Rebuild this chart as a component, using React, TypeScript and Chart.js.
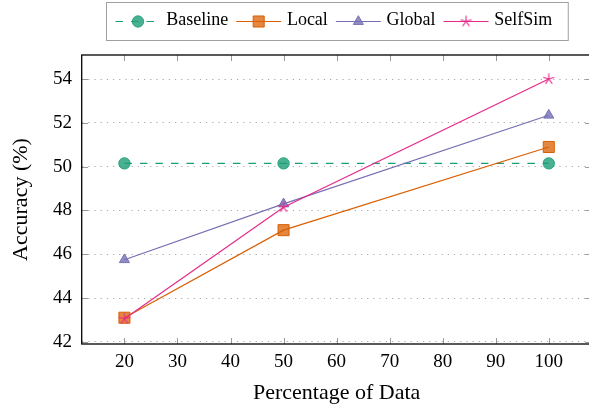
import React, { useEffect, useRef } from "react";
import { Chart, registerables } from "chart.js";

Chart.register(...registerables);

// ---- data ----
const xValues = [20, 50, 100];
const seriesNames = ["Baseline", "Local", "Global", "SelfSim"];
const baselineAcc = [50.15, 50.15, 50.15];
const localAcc = [43.1, 47.1, 50.9];
const globalAcc = [45.75, 48.3, 52.35];
const selfSimAcc = [43.05, 48.15, 54.0];
const xTicks = [20, 30, 40, 50, 60, 70, 80, 90, 100];
const yTicks = [42, 44, 46, 48, 50, 52, 54];
const xLabel = "Percentage of Data";
const yLabel = "Accuracy (%)";

const FONT = "'Liberation Serif', 'Times New Roman', serif";

function makeStar(color: string, r: number): HTMLCanvasElement {
  const c = document.createElement("canvas");
  const s = Math.ceil(r * 2 + 4);
  c.width = s;
  c.height = s;
  const ctx = c.getContext("2d")!;
  ctx.strokeStyle = color;
  ctx.lineWidth = 1.1;
  ctx.beginPath();
  for (let i = 0; i < 5; i++) {
    const a = -Math.PI / 2 + (i * 2 * Math.PI) / 5;
    ctx.moveTo(s / 2, s / 2);
    ctx.lineTo(s / 2 + r * Math.cos(a), s / 2 + r * Math.sin(a));
  }
  ctx.stroke();
  return c;
}

function drawMarker(ctx: CanvasRenderingContext2D, d: any, x: number, y: number) {
  const r = d.pointRadius;
  const st = d.pointStyle;
  ctx.save();
  ctx.fillStyle = d.pointBackgroundColor;
  ctx.strokeStyle = d.pointBorderColor;
  ctx.lineWidth = d.pointBorderWidth;
  if (typeof st !== "string") {
    ctx.drawImage(st, x - st.width / 2, y - st.height / 2);
    ctx.restore();
    return;
  }
  ctx.beginPath();
  if (st === "circle") {
    ctx.arc(x, y, r, 0, Math.PI * 2);
  } else if (st === "rect") {
    const s = Math.SQRT1_2 * r;
    ctx.rect(x - s, y - s, 2 * s, 2 * s);
  } else if (st === "triangle") {
    let rad = 0;
    ctx.moveTo(x + Math.sin(rad) * r, y - Math.cos(rad) * r);
    rad += (2 * Math.PI) / 3;
    ctx.lineTo(x + Math.sin(rad) * r, y - Math.cos(rad) * r);
    rad += (2 * Math.PI) / 3;
    ctx.lineTo(x + Math.sin(rad) * r, y - Math.cos(rad) * r);
    ctx.closePath();
  }
  ctx.fill();
  ctx.stroke();
  ctx.restore();
}

const framePlugin = {
  id: "frameTicks",
  beforeDatasetsDraw(chart: any) {
    const { ctx, chartArea: a, scales } = chart;
    const x = scales.x;
    const y = scales.y;
    const L = 6;
    ctx.save();
    ctx.strokeStyle = "#9a9a9a";
    ctx.lineWidth = 1;
    ctx.beginPath();
    xTicks.forEach((v) => {
      const px = Math.round(x.getPixelForValue(v)) + 0.5;
      ctx.moveTo(px, a.bottom);
      ctx.lineTo(px, a.bottom - L);
      ctx.moveTo(px, a.top);
      ctx.lineTo(px, a.top + L);
    });
    yTicks.forEach((v) => {
      const py = Math.round(y.getPixelForValue(v)) + 0.5;
      ctx.moveTo(a.left, py);
      ctx.lineTo(a.left + L, py);
      ctx.moveTo(a.right, py);
      ctx.lineTo(a.right - L, py);
    });
    ctx.stroke();
    ctx.strokeStyle = "#000";
    ctx.lineWidth = 1.3;
    ctx.strokeRect(a.left - 0.3, a.top, a.right - a.left, a.bottom - a.top);
    ctx.restore();
  },
};

const legendPlugin = {
  id: "boxLegend",
  afterDraw(chart: any) {
    const { ctx, chartArea: a } = chart;
    const ds = chart.data.datasets;
    ctx.save();
    ctx.font = `18px ${FONT}`;
    const lineLen = 45;
    const gapText = 5.7;
    const gapItem = 8;
    const padL = 9;
    const padR = 16;
    const widths = ds.map((d: any) => ctx.measureText(d.label).width);
    let total = padL + padR + gapItem * (ds.length - 1);
    widths.forEach((w: number) => (total += lineLen + gapText + w));
    const cx = (a.left + a.right) / 2;
    const left = Math.round(cx - total / 2) + 0.5;
    ctx.strokeStyle = "#a0a0a0";
    ctx.lineWidth = 1;
    ctx.strokeRect(left, 2.5, total, 38);
    let x = left + padL;
    const cy = 21.5;
    ds.forEach((d: any, i: number) => {
      ctx.save();
      ctx.strokeStyle = d.borderColor;
      ctx.lineWidth = d.borderWidth;
      ctx.setLineDash(d.borderDash || []);
      ctx.beginPath();
      ctx.moveTo(x, cy);
      ctx.lineTo(x + lineLen, cy);
      ctx.stroke();
      ctx.restore();
      drawMarker(ctx, d, x + lineLen / 2, cy);
      ctx.fillStyle = "#000";
      ctx.textBaseline = "middle";
      ctx.textAlign = "left";
      ctx.fillText(d.label, x + lineLen + gapText, 20.7);
      x += lineLen + gapText + widths[i] + gapItem;
    });
    ctx.restore();
  },
};

function toPoints(vals: number[]) {
  return xValues.map((x, i) => ({ x, y: vals[i] }));
}

export default function App() {
  const ref = useRef<HTMLCanvasElement | null>(null);

  useEffect(() => {
    if (!ref.current) return;
    Chart.defaults.font.family = FONT;
    Chart.defaults.color = "#000";
    const star = makeStar("#e7298a", 5.8);
    const chart = new Chart(ref.current, {
      type: "line",
      data: {
        datasets: [
          {
            label: seriesNames[0],
            data: toPoints(baselineAcc),
            borderColor: "#1b9e77",
            borderWidth: 1.2,
            borderDash: [7.5, 8],
            pointStyle: "circle",
            pointRadius: 5.7,
            pointBackgroundColor: "rgba(27,158,119,0.8)",
            pointBorderColor: "rgba(27,158,119,0.85)",
            pointBorderWidth: 1,
            order: 4,
          },
          {
            label: seriesNames[1],
            data: toPoints(localAcc),
            borderColor: "#d95f02",
            borderWidth: 1.2,
            pointStyle: "rect",
            pointRadius: 7.8,
            pointBackgroundColor: "rgba(217,95,2,0.75)",
            pointBorderColor: "#d95f02",
            pointBorderWidth: 1,
            order: 3,
          },
          {
            label: seriesNames[2],
            data: toPoints(globalAcc),
            borderColor: "#7570b3",
            borderWidth: 1.2,
            pointStyle: "triangle",
            pointRadius: 5.8,
            pointBackgroundColor: "rgba(117,112,179,0.8)",
            pointBorderColor: "#7570b3",
            pointBorderWidth: 1,
            order: 2,
          },
          {
            label: seriesNames[3],
            data: toPoints(selfSimAcc),
            borderColor: "#e7298a",
            borderWidth: 1.2,
            pointStyle: star as any,
            pointRadius: 5.8,
            pointBackgroundColor: "#e7298a",
            pointBorderColor: "#e7298a",
            pointBorderWidth: 1,
            order: 1,
          },
        ] as any,
      },
      options: {
        responsive: false,
        animation: false,
        layout: { padding: { left: 0, right: 8.4, top: 55, bottom: 0 } },
        plugins: { legend: { display: false }, tooltip: { enabled: false } },
        scales: {
          x: {
            type: "linear",
            min: 12,
            max: 108,
            afterBuildTicks: (s: any) => {
              s.ticks = xTicks.map((v) => ({ value: v }));
            },
            afterFit: (s: any) => {
              s.height = 66;
            },
            grid: { display: false, drawTicks: false },
            border: { display: false },
            ticks: {
              padding: 7,
              color: "#000",
              font: { size: 19 },
              maxRotation: 0,
              autoSkip: false,
              callback: (v: any) => String(v),
            },
            title: {
              display: true,
              text: xLabel,
              color: "#000",
              font: { size: 22 },
              padding: { top: 0, bottom: 4 },
            },
          },
          y: {
            type: "linear",
            min: 41.9,
            max: 55.1,
            afterBuildTicks: (s: any) => {
              s.ticks = yTicks.map((v) => ({ value: v }));
            },
            afterFit: (s: any) => {
              s.width = 82;
            },
            grid: { color: "#a8a8a8", lineWidth: 1, drawTicks: false },
            border: { display: false, dash: [1.2, 5] },
            ticks: {
              padding: 10,
              color: "#000",
              font: { size: 19 },
              autoSkip: false,
              callback: (v: any) => String(v),
            },
            title: {
              display: true,
              text: yLabel,
              color: "#000",
              font: { size: 22 },
              padding: { top: 8, bottom: 0 },
            },
          },
        },
      } as any,
      plugins: [framePlugin, legendPlugin],
    });
    return () => chart.destroy();
  }, []);

  return (
    <div
      style={{
        position: "fixed",
        left: 0,
        top: 0,
        width: 589,
        height: 410,
        overflow: "hidden",
        background: "#fff",
      }}
    >
      <canvas
        ref={ref}
        width={600}
        height={410}
        style={{ display: "block", width: 600, height: 410 }}
      />
    </div>
  );
}
